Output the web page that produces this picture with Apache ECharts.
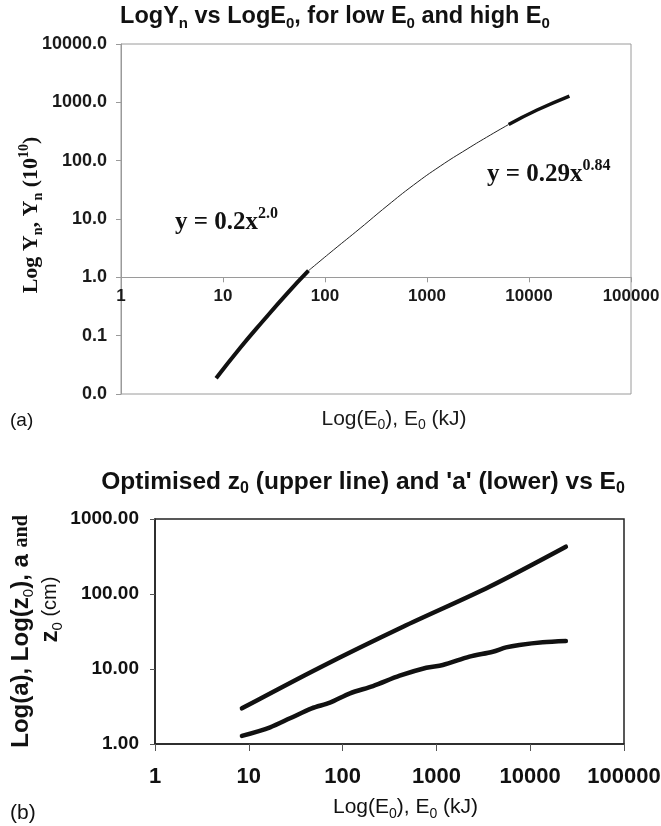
<!DOCTYPE html>
<html>
<head>
<meta charset="utf-8">
<script src="https://cdn.jsdelivr.net/npm/echarts@6/dist/echarts.min.js"></script>
<style>
html,body{margin:0;padding:0;background:#fff;}
#main{width:661px;height:826px;}
</style>
</head>
<body>
<div id="main"></div>
<script>
// (a) Yn against E0
var yieldE = [8.56, 14.7, 24.9, 41.6, 68.9, 121, 221, 405, 738, 1352, 2470, 4180, 6320, 12000, 24900];
var yieldY = [0.0186, 0.0614, 0.182, 0.507, 1.30, 2.94, 6.92, 16.7, 38.2, 80.9, 158, 275, 417, 738, 1283];
// index ranges drawn thick (fits) and thin (between)
var lowFit = [0, 4];
var midPart = [4, 12];
var highFit = [12, 14];

// (b) optimised z0 (upper line) and 'a' (lower line)
var z0E = [8.45, 57.4, 441, 3675, 24000];
var z0Val = [2.99, 10.5, 36.6, 125, 427];
var aE = [8.45, 16.9, 27.5, 46.9, 73.3, 120, 211, 406, 781, 1170, 2250, 3990, 5530, 7660, 13600, 24000];
var aVal = [1.28, 1.67, 2.20, 2.99, 3.56, 4.74, 5.93, 8.14, 10.4, 11.3, 14.6, 17.0, 19.4, 20.9, 22.7, 23.6];

// axis ranges
var eRange = [1, 100000];
var yieldRange = [0.01, 10000];
var lenRange = [1, 1000];

var SANS = 'Liberation Sans';
var SERIF = 'Liberation Serif';

function pairs(xs, ys, from, to){
	var out = [];
	if(from == null){ from = 0; to = xs.length - 1; }
	for(var i = from; i <= to; i++){
		out.push([xs[i], ys[i]]);
	}
	return out;
}

var myChart = echarts.init(document.getElementById('main'));

var option = {
	animation: false,
	backgroundColor: '#fff',
	grid: [
		{left: 121, top: 44, width: 510, height: 350, show: true, borderColor: '#9a9a9a', borderWidth: 1, containLabel: false, outerBoundsMode: 'none'},
		{left: 155, top: 519, width: 469, height: 225, show: true, borderColor: '#222', borderWidth: 1.5, containLabel: false, outerBoundsMode: 'none'}
	],
	xAxis: [
		{
			type: 'log', gridIndex: 0, logBase: 10, min: eRange[0], max: eRange[1],
			position: 'bottom', offset: -116.7,
			axisLine: {show: true, onZero: false, lineStyle: {color: '#9a9a9a', width: 1}},
			axisTick: {show: true, length: 5, lineStyle: {color: '#9a9a9a'}},
			axisLabel: {margin: 11, fontFamily: SANS, fontWeight: 'bold', fontSize: 17, color: '#1a1a1a',
				formatter: function(v){ return String(Math.round(v)); }},
			splitLine: {show: false},
			name: '{r|Log(E}{s|0}{r|), E}{s|0}{r| (kJ)}',
			nameLocation: 'middle', nameGap: 129, nameMoveOverlap: false,
			nameTextStyle: {padding: [0, 0, 0, 36], rich: {
				r: {fontFamily: SANS, fontSize: 21, color: '#1a1a1a', lineHeight: 26},
				s: {fontFamily: SANS, fontSize: 14, color: '#1a1a1a', lineHeight: 13, verticalAlign: 'bottom'}
			}}
		},
		{
			type: 'log', gridIndex: 1, logBase: 10, min: eRange[0], max: eRange[1],
			position: 'bottom',
			axisLine: {show: true, onZero: false, lineStyle: {color: '#222', width: 1.5}},
			axisTick: {show: true, length: 7, lineStyle: {color: '#555', width: 1}},
			axisLabel: {margin: 22, fontFamily: SANS, fontWeight: 'bold', fontSize: 22, color: '#111',
				formatter: function(v){ return String(Math.round(v)); }},
			splitLine: {show: false},
			name: '{r|Log(E}{s|0}{r|), E}{s|0}{r| (kJ)}',
			nameLocation: 'middle', nameGap: 50, nameMoveOverlap: false,
			nameTextStyle: {padding: [0, 0, 0, 32], rich: {
				r: {fontFamily: SANS, fontSize: 21, color: '#111', lineHeight: 27},
				s: {fontFamily: SANS, fontSize: 14, color: '#111', lineHeight: 14, verticalAlign: 'bottom'}
			}}
		}
	],
	yAxis: [
		{
			type: 'log', gridIndex: 0, logBase: 10, min: yieldRange[0], max: yieldRange[1],
			axisLine: {show: true, lineStyle: {color: '#9a9a9a', width: 1}},
			axisTick: {show: true, length: 5, lineStyle: {color: '#9a9a9a'}},
			axisLabel: {margin: 14, fontFamily: SANS, fontWeight: 'bold', fontSize: 18, color: '#1a1a1a',
				formatter: function(v){ return v.toFixed(1); }},
			splitLine: {show: false},
			name: '{b|Log Y}{s|n}{b|, Y}{s|n}{b| (10}{p|10}{b|)}',
			nameLocation: 'middle', nameRotate: 90, nameGap: 76, nameMoveOverlap: false,
			nameTextStyle: {padding: [0, 0, 0, 8], rich: {
				b: {fontFamily: SERIF, fontWeight: 'bold', fontSize: 22, color: '#111', lineHeight: 28},
				s: {fontFamily: SERIF, fontWeight: 'bold', fontSize: 14, color: '#111', lineHeight: 14, verticalAlign: 'bottom'},
				p: {fontFamily: SERIF, fontWeight: 'bold', fontSize: 14, color: '#111', lineHeight: 14, verticalAlign: 'top'}
			}}
		},
		{
			type: 'log', gridIndex: 1, logBase: 10, min: lenRange[0], max: lenRange[1],
			axisLine: {show: true, lineStyle: {color: '#222', width: 1.5}},
			axisTick: {show: true, length: 5, lineStyle: {color: '#555', width: 1}},
			axisLabel: {margin: 16, fontFamily: SANS, fontWeight: 'bold', fontSize: 19, color: '#111',
				formatter: function(v){ return v.toFixed(2); }},
			splitLine: {show: false},
			name: '{m|Log(a), Log(z}{s|0}{m|), a }{t|and}\n{gap| }{m|z}{s|0}{c| (cm)}',
			nameLocation: 'middle', nameRotate: 90, nameGap: 90, nameMoveOverlap: false,
			nameTextStyle: {rich: {
				m: {fontFamily: SANS, fontWeight: 'bold', fontSize: 24, color: '#111', lineHeight: 29},
				s: {fontFamily: SANS, fontSize: 15, color: '#111', lineHeight: 14, verticalAlign: 'bottom'},
				t: {fontFamily: SERIF, fontWeight: 'bold', fontSize: 20, color: '#111', lineHeight: 29},
				c: {fontFamily: SANS, fontSize: 20, color: '#111', lineHeight: 29},
				gap: {width: 44, fontSize: 10, lineHeight: 29}
			}}
		}
	],
	series: [
		{type: 'line', name: 'low E0', xAxisIndex: 0, yAxisIndex: 0, showSymbol: false, symbol: 'none', smooth: true,
			lineStyle: {color: '#111', width: 4}, data: pairs(yieldE, yieldY, lowFit[0], lowFit[1])},
		{type: 'line', name: 'between', xAxisIndex: 0, yAxisIndex: 0, showSymbol: false, symbol: 'none', smooth: true,
			lineStyle: {color: '#222', width: 1}, data: pairs(yieldE, yieldY, midPart[0], midPart[1])},
		{type: 'line', name: 'high E0', xAxisIndex: 0, yAxisIndex: 0, showSymbol: false, symbol: 'none', smooth: true,
			lineStyle: {color: '#111', width: 3.5}, data: pairs(yieldE, yieldY, highFit[0], highFit[1])},
		{type: 'line', name: 'z0', xAxisIndex: 1, yAxisIndex: 1, showSymbol: false, symbol: 'none', smooth: 0.3,
			lineStyle: {color: '#111', width: 4.5, cap: 'round'}, data: pairs(z0E, z0Val)},
		{type: 'line', name: 'a', xAxisIndex: 1, yAxisIndex: 1, showSymbol: false, symbol: 'none', smooth: 0.3,
			lineStyle: {color: '#111', width: 4.5, cap: 'round'}, data: pairs(aE, aVal)}
	],
	graphic: [
		{type: 'text', x: 335, y: 2, style: {
			text: '{b|LogY}{s|n}{b| vs LogE}{s|0}{b|, for low E}{s|0}{b| and high E}{s|0}',
			align: 'center', verticalAlign: 'top',
			rich: {
				b: {fontFamily: SANS, fontWeight: 'bold', fontSize: 23.5, fill: '#111', lineHeight: 29},
				s: {fontFamily: SANS, fontWeight: 'bold', fontSize: 15, fill: '#111', lineHeight: 15, verticalAlign: 'bottom'}
			}}},
		{type: 'text', x: 363, y: 468, style: {
			text: "{b|Optimised z}{s|0}{b| (upper line) and 'a' (lower) vs E}{s|0}",
			align: 'center', verticalAlign: 'top',
			rich: {
				b: {fontFamily: SANS, fontWeight: 'bold', fontSize: 24.5, fill: '#111', lineHeight: 29},
				s: {fontFamily: SANS, fontWeight: 'bold', fontSize: 16, fill: '#111', lineHeight: 15, verticalAlign: 'bottom'}
			}}},
		{type: 'text', x: 175, y: 206, style: {
			text: '{b|y = 0.2x}{p|2.0}',
			align: 'left', verticalAlign: 'top',
			rich: {
				b: {fontFamily: SERIF, fontWeight: 'bold', fontSize: 25, fill: '#111', lineHeight: 34},
				p: {fontFamily: SERIF, fontWeight: 'bold', fontSize: 16, fill: '#111', lineHeight: 12, verticalAlign: 'top'}
			}}},
		{type: 'text', x: 487, y: 158, style: {
			text: '{b|y = 0.29x}{p|0.84}',
			align: 'left', verticalAlign: 'top',
			rich: {
				b: {fontFamily: SERIF, fontWeight: 'bold', fontSize: 25, fill: '#111', lineHeight: 34},
				p: {fontFamily: SERIF, fontWeight: 'bold', fontSize: 16, fill: '#111', lineHeight: 12, verticalAlign: 'top'}
			}}},
		{type: 'text', x: 10, y: 421, style: {text: '(a)', fontFamily: SANS, fontSize: 19, fill: '#111', align: 'left', verticalAlign: 'middle'}},
		{type: 'text', x: 10, y: 813, style: {text: '(b)', fontFamily: SANS, fontSize: 21, fill: '#111', align: 'left', verticalAlign: 'middle'}}
	]
};
myChart.setOption(option, true);
</script>
</body>
</html>
